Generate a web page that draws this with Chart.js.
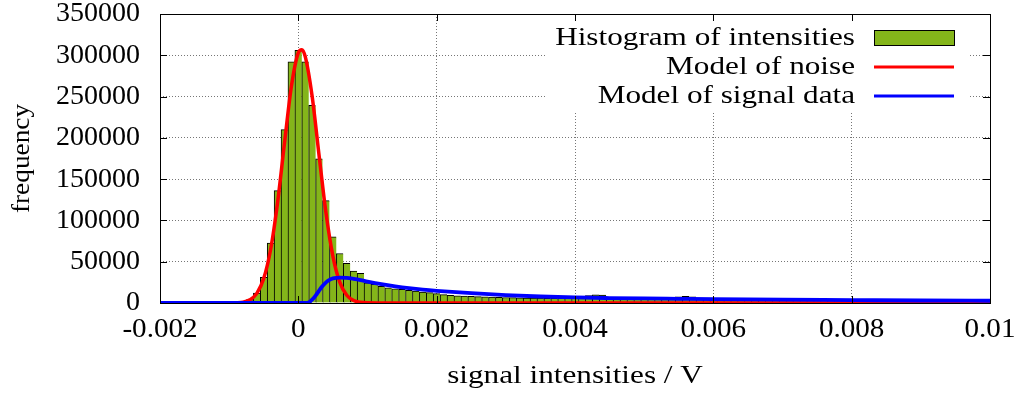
<!DOCTYPE html>
<html>
<head>
<meta charset="utf-8">
<script src="https://cdn.jsdelivr.net/npm/chart.js@4"></script>
<style>
  html, body { margin: 0; padding: 0; background: #fff; }
  #wrap { width: 1021px; height: 394px; }
</style>
</head>
<body>
<div id="wrap"><canvas id="histChart" width="1021" height="394"></canvas></div>
<script>
// histogram bins: 0.0001 V wide, centred from -0.002 to 0.01
const binStart = -0.002;
const binWidth = 0.0001;
const binCounts = [
    0, 0, 0, 0, 0, 0, 0, 0, 0, 0, 0, 0,
    1000, 4000, 12000, 31000, 72600, 136000, 210000, 292000,
    306000,
    292000, 239500, 174600, 124000, 80000, 60000, 48000, 38700, 35900,
    24500, 22600, 20200, 18500, 17300, 16500, 15300, 14500, 13300, 12500,
    11300, 10100, 9300, 8800, 8400, 8000, 7800, 7500, 7200, 7000,
    6700, 6500, 6300, 6100, 6000, 5900, 5800, 5700, 5700, 5800,
    6200, 8000, 9000, 10000, 9500, 7000, 5400, 5200, 5000, 4900,
    4800, 4700, 4700, 4800, 6000, 7500, 8000, 7500, 6000, 4500,
    4300, 4200, 4200, 4100, 4100, 4000, 4000, 3900, 3900, 3800,
    3800, 3700, 3700, 3600, 3600, 3500, 3500, 3400, 3400, 3300,
    3300, 3200, 3200, 3100, 3100, 3000, 3000, 2900, 2900, 2800,
    2800, 2700, 2700, 2600, 2600, 2500, 2500, 2500, 2400, 2400,
    2400
];

// fitted noise model
const noiseX = [-0.002, -0.0012, -0.001, -0.0009, -0.0008, -0.0007, -0.0006, -0.0005, -0.0004, -0.0003,
    -0.0002, -0.0001, 0, 0.00005, 0.0001, 0.0002, 0.0003, 0.0004, 0.0005, 0.0006,
    0.0007, 0.0008, 0.0009, 0.001, 0.0012, 0.01];
const noiseY = [0, 0, 60, 330, 1090, 3840, 11600, 29800, 65100, 121800,
    193700, 262400, 303100, 306800, 298300, 250100, 178700, 108900, 56500, 25000,
    9400, 3000, 830, 190, 0, 0];

// fitted signal model
const signalX = [-0.002, 0.0001, 0.00015, 0.0002, 0.00025, 0.0003, 0.00035, 0.0004, 0.00045, 0.0005,
    0.0006, 0.0007, 0.0008, 0.0009, 0.001, 0.0012, 0.0014, 0.0016, 0.0018, 0.002,
    0.0025, 0.003, 0.0035, 0.004, 0.0045, 0.005, 0.0055, 0.006, 0.007, 0.008,
    0.009, 0.01];
const signalY = [0, 0, 600, 4000, 9000, 15000, 20500, 25000, 28000, 29800,
    30800, 30500, 29300, 27800, 26000, 22800, 20200, 18000, 16200, 14800,
    12000, 9600, 7900, 6700, 6000, 5500, 5100, 4700, 4000, 3500,
    3000, 2700];

const xTickValues = [-0.002, 0, 0.002, 0.004, 0.006, 0.008, 0.01];
const xTickLabels = ['-0.002', '0', '0.002', '0.004', '0.006', '0.008', '0.01'];
const yTickValues = [0, 50000, 100000, 150000, 200000, 250000, 300000, 350000];
const yTickLabels = ['0', '50000', '100000', '150000', '200000', '250000', '300000', '350000'];

const legendLabels = ['Histogram of intensities', 'Model of noise', 'Model of signal data'];
const xTitle = 'signal intensities / V';
const yTitle = 'frequency';

const barGreen = '#84b51a';
const noiseRed = '#ff0000';
const signalBlue = '#0000ff';
const serif = '"Liberation Serif", "Times New Roman", serif';

document.addEventListener('DOMContentLoaded', () => {
    drawHistogram();
});

function stretchText(ctx, text, x, y, align, size, sx) {
    ctx.save();
    ctx.translate(x, y);
    ctx.scale(sx, 1);
    ctx.font = size + 'px ' + serif;
    ctx.textAlign = align;
    ctx.textBaseline = 'middle';
    ctx.fillStyle = '#000';
    ctx.fillText(text, 0, 0);
    ctx.restore();
}

// gnuplot-like frame, inward ticks, labels and an opaque key box
const framePlugin = {
    id: 'framePlugin',
    afterDraw(chart) {
        const ctx = chart.ctx;
        const area = chart.chartArea;
        const xs = chart.scales.x;
        const ys = chart.scales.y;
        const tick = 7;

        // key box hides the grid behind it
        ctx.save();
        ctx.fillStyle = '#fff';
        ctx.fillRect(545, area.top + 1, 425, 96);
        ctx.restore();

        ctx.save();
        ctx.strokeStyle = '#000';
        ctx.lineWidth = 1;
        ctx.strokeRect(Math.round(area.left) + 0.5, Math.round(area.top) + 0.5,
            Math.round(area.right - area.left), Math.round(area.bottom - area.top));

        ctx.beginPath();
        xTickValues.forEach(v => {
            const px = Math.round(xs.getPixelForValue(v)) + 0.5;
            ctx.moveTo(px, area.bottom);
            ctx.lineTo(px, area.bottom - tick);
            ctx.moveTo(px, area.top);
            ctx.lineTo(px, area.top + tick);
        });
        yTickValues.forEach(v => {
            const py = Math.round(ys.getPixelForValue(v)) + 0.5;
            ctx.moveTo(area.left, py);
            ctx.lineTo(area.left + tick, py);
            ctx.moveTo(area.right, py);
            ctx.lineTo(area.right - tick, py);
        });
        ctx.stroke();
        ctx.restore();

        xTickValues.forEach((v, i) => {
            stretchText(ctx, xTickLabels[i], xs.getPixelForValue(v), area.bottom + 27, 'center', 28, 1.04);
        });
        yTickValues.forEach((v, i) => {
            stretchText(ctx, yTickLabels[i], area.left - 20, ys.getPixelForValue(v), 'right', 28, 1);
        });

        stretchText(ctx, xTitle, (area.left + area.right) / 2, 376, 'center', 26, 1.2);
        ctx.save();
        ctx.translate(22, (area.top + area.bottom) / 2);
        ctx.rotate(-Math.PI / 2);
        stretchText(ctx, yTitle, 0, 0, 'center', 26, 1.05);
        ctx.restore();

        // key entries: text right-aligned, sample on the right
        const rowY = [38, 67, 96];
        const textRight = 855;
        const sampleL = 874;
        const sampleR = 954;
        legendLabels.forEach((label, i) => {
            stretchText(ctx, label, textRight, rowY[i], 'right', 26, 1.2);
        });
        ctx.save();
        ctx.fillStyle = barGreen;
        ctx.fillRect(sampleL, rowY[0] - 7.5, sampleR - sampleL, 15);
        ctx.strokeStyle = '#000';
        ctx.lineWidth = 1;
        ctx.strokeRect(sampleL + 0.5, rowY[0] - 7.5, sampleR - sampleL, 15);
        ctx.lineWidth = 3;
        ctx.strokeStyle = noiseRed;
        ctx.beginPath();
        ctx.moveTo(sampleL, rowY[1]);
        ctx.lineTo(sampleR, rowY[1]);
        ctx.stroke();
        ctx.strokeStyle = signalBlue;
        ctx.beginPath();
        ctx.moveTo(sampleL, rowY[2]);
        ctx.lineTo(sampleR, rowY[2]);
        ctx.stroke();
        ctx.restore();
    }
};

function drawHistogram() {
    const ctx = document.getElementById('histChart').getContext('2d');

    const histData = binCounts.map((count, i) => ({
        x: Number((binStart + i * binWidth).toFixed(4)),
        y: count
    }));
    const noiseData = noiseX.map((x, i) => ({ x: x, y: noiseY[i] }));
    const signalData = signalX.map((x, i) => ({ x: x, y: signalY[i] }));

    new Chart(ctx, {
        data: {
            datasets: [{
                type: 'bar',
                label: legendLabels[0],
                data: histData,
                backgroundColor: barGreen,
                borderColor: '#000',
                borderWidth: { top: 1, left: 1, right: 0, bottom: 0 },
                borderSkipped: false,
                barPercentage: 1,
                categoryPercentage: 1,
                order: 3
            }, {
                type: 'line',
                label: legendLabels[1],
                data: noiseData,
                borderColor: noiseRed,
                borderWidth: 3.5,
                pointRadius: 0,
                cubicInterpolationMode: 'monotone',
                fill: false,
                order: 2
            }, {
                type: 'line',
                label: legendLabels[2],
                data: signalData,
                borderColor: signalBlue,
                borderWidth: 3.8,
                pointRadius: 0,
                cubicInterpolationMode: 'monotone',
                fill: false,
                order: 1
            }]
        },
        options: {
            responsive: false,
            animation: false,
            devicePixelRatio: 1,
            layout: {
                padding: { left: 160, right: 31, top: 14, bottom: 91 }
            },
            plugins: {
                legend: { display: false },
                tooltip: { enabled: false }
            },
            scales: {
                x: {
                    type: 'linear',
                    min: -0.002,
                    max: 0.01,
                    offset: false,
                    afterBuildTicks: scale => {
                        scale.ticks = xTickValues.map(v => ({ value: v }));
                    },
                    afterFit: scale => { scale.height = 0; },
                    ticks: { display: false },
                    grid: { color: '#767676', drawTicks: false, lineWidth: 1, offset: false },
                    border: { display: false, dash: [1, 2] }
                },
                y: {
                    type: 'linear',
                    min: 0,
                    max: 350000,
                    afterBuildTicks: scale => {
                        scale.ticks = yTickValues.map(v => ({ value: v }));
                    },
                    afterFit: scale => { scale.width = 0; },
                    ticks: { display: false },
                    grid: { color: '#767676', drawTicks: false, lineWidth: 1 },
                    border: { display: false, dash: [1, 2] }
                }
            }
        },
        plugins: [framePlugin]
    });
}
</script>
</body>
</html>
